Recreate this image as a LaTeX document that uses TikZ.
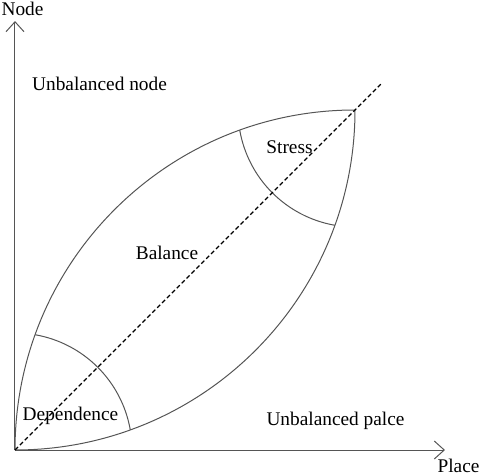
\documentclass[tikz,border=0pt]{standalone}
\usepackage{fontspec}
\setmainfont{Liberation Serif}
\usetikzlibrary{arrows.meta}

\definecolor{curvegray}{RGB}{85,85,85}
\tikzset{
  lbl/.style={anchor=base, inner sep=0pt, font=\fontsize{14.5}{17}\selectfont},
  axis/.style={draw=curvegray, line width=0.75pt, -{Straight Barb[length=7.5pt,width=13.5pt]}},
  lens/.style={draw=curvegray, line width=0.75pt},
}

\begin{document}
\begin{tikzpicture}[x=0.75pt,y=0.75pt,yscale=-1,xscale=1]
\useasboundingbox (0,0) rectangle (480,475);

% corners
\coordinate (O) at (15,450);
\coordinate (T) at (355,110);
\coordinate (ytop) at (15,21);
\coordinate (xend) at (445,450);
\coordinate (dend) at (382,83);

%Axes
\draw [axis] (O) -- (ytop);
\draw [axis] (O) -- (xend);

%Lens upper and lower
\draw [lens] (O) arc [start angle=180, end angle=270, radius=340];
\draw [lens] (O) arc [start angle=90, end angle=0, radius=340];

%Arc near origin
\draw [lens] (35.13,334.74) arc [start angle=-80.1, end angle=-9.9, radius=117];
%Arc near top
\draw [lens] (239.74,130.13) arc [start angle=170.1, end angle=99.9, radius=117];

%Dashed diagonal
\draw [black, line width=0.9pt, dash pattern=on 3.2pt off 2pt] (O) -- (dend);

% Text Node
\node [lbl] (node) at (22.5,15) {Node};
\node [lbl] (place) at (458.5,472.5) {Place};
\node [lbl] (unnode) at (99.5,90.5) {Unbalanced node};
\node [lbl] (unplace) at (335.5,425) {Unbalanced palce};
\node [lbl] (balance) at (167,259) {Balance};
\node [lbl] (stress) at (289.5,153) {Stress};
\node [lbl] (depend) at (70.5,420) {Dependence};

\end{tikzpicture}
\end{document}
